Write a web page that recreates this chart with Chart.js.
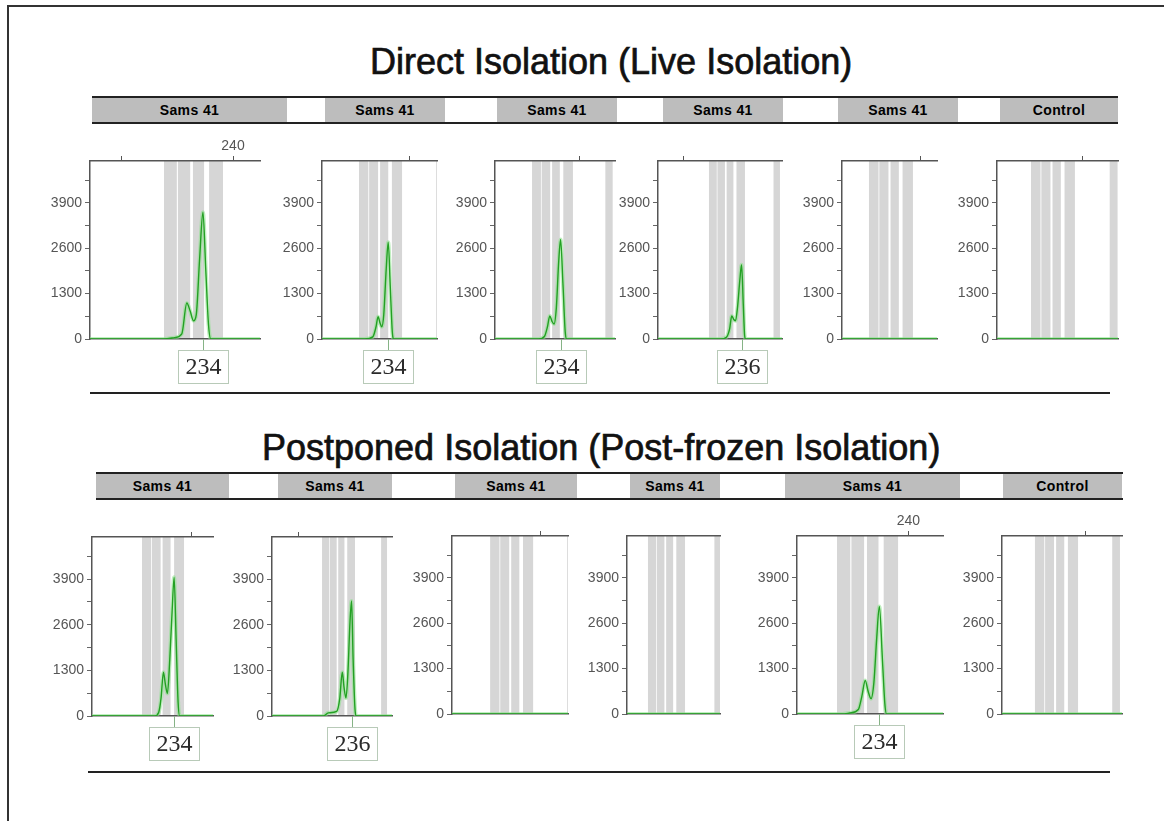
<!DOCTYPE html>
<html>
<head>
<meta charset="utf-8">
<script src="https://cdn.jsdelivr.net/npm/chart.js@4.4.1/dist/chart.umd.min.js"></script>
<style>
  body { margin: 0; background: #fff; width: 1164px; height: 821px; position: relative; overflow: hidden;
         font-family: "Liberation Sans", Arial, sans-serif; }
  .line { position: absolute; background: #333; }
  .title { position: absolute; font-size: 36px; line-height: 36px; white-space: nowrap; color: #111;
           -webkit-text-stroke: 0.7px #111; }
  .bar { position: absolute; height: 24px; border-top: 2px solid #222; border-bottom: 2px solid #222; }
  .seg { position: absolute; top: 0; height: 24px; background: #bdbdbd; font-weight: bold; font-size: 14px;
         letter-spacing: 0.4px; line-height: 24px; text-align: center; color: #000; }
  canvas { position: absolute; }
</style>
</head>
<body>
<script>
// titles and lane names
const groupTitles = ['Direct Isolation (Live Isolation)', 'Postponed Isolation (Post-frozen Isolation)'];
const laneNames = ['Sams 41', 'Sams 41', 'Sams 41', 'Sams 41', 'Sams 41', 'Control'];

// y axis (RFU)
const yMax = 5100;
const yTickValues = [0, 650, 1300, 1950, 2600, 3250, 3900, 4550];
const yLabelled = [0, 1300, 2600, 3900];

// allele bins (bp)
const binRanges = [[227.6, 229.9], [230.1, 232.3], [232.8, 234.8], [235.7, 238.2], [246.6, 248.5]];

// visible size range of each panel (bp)
const xRanges = [
  [214.3, 244.85], [218.5, 246.8], [218.0, 249.1], [212.6, 249.1], [221.1, 244.0], [219.4, 248.6],
  [215.0, 245.5], [211.5, 250.1], [218.2, 246.8], [221.6, 248.2], [220.65, 246.0], [219.5, 249.0]
];

// top size-axis ticks and the one that carries a label
const topTicks = [[220, 240], [240], [240], [220], [240], [240], [240], [220], [240], [], [240], [240]];
const labelledTopTick = [240, null, null, null, null, null, null, null, null, null, 240, null];

// traces: [size bp, RFU]
const trace1 = [[214.3, 0], [227.5, 0], [229.5, 40], [230.8, 150], [231.7, 1030], [232.3, 800], [232.9, 520],
  [233.4, 700], [234.0, 2300], [234.6, 3630], [235.1, 2000], [235.6, 400], [236.0, 0], [244.85, 0]];
const trace2 = [[218.5, 0], [229.0, 0], [231.0, 60], [231.8, 350], [232.3, 640], [232.8, 450], [233.2, 350],
  [233.7, 700], [234.3, 2000], [234.8, 2770], [235.3, 1500], [235.8, 200], [236.1, 0], [246.8, 0]];
const trace3 = [[218.0, 0], [229.3, 0], [230.8, 70], [231.6, 350], [232.2, 660], [232.8, 500], [233.3, 430],
  [233.9, 900], [234.5, 2200], [235.0, 2850], [235.6, 1600], [236.2, 200], [236.6, 0], [249.1, 0]];
const trace4 = [[212.6, 0], [231.0, 0], [232.8, 60], [233.7, 300], [234.3, 660], [234.9, 560], [235.4, 520],
  [236.0, 900], [236.7, 1700], [237.2, 2130], [237.7, 1000], [238.1, 100], [238.4, 0], [249.1, 0]];
const trace5 = [[221.1, 0], [244.0, 0]];
const trace6 = [[219.4, 0], [248.6, 0]];
const trace7 = [[215.0, 0], [230.8, 0], [231.8, 100], [232.4, 500], [233.0, 1250], [233.5, 900], [234.0, 640],
  [234.6, 1600], [235.2, 3000], [235.7, 3950], [236.2, 2200], [236.7, 400], [237.1, 0], [245.5, 0]];
const trace8 = [[211.5, 0], [228.0, 0], [229.6, 90], [232.3, 130], [233.3, 500], [234.1, 1250], [234.7, 800],
  [235.3, 510], [235.9, 1200], [236.6, 2700], [237.1, 3280], [237.6, 1600], [238.2, 200], [238.6, 0], [250.1, 0]];
const trace9 = [[218.2, 0], [246.8, 0]];
const trace10 = [[221.6, 0], [248.2, 0]];
const trace11 = [[220.65, 0], [228.5, 0], [229.8, 30], [231.3, 130], [231.9, 500], [232.5, 960], [233.0, 650],
  [233.5, 440], [234.0, 900], [234.5, 2200], [234.95, 3080], [235.5, 1500], [235.9, 300], [236.2, 0], [246.0, 0]];
const trace12 = [[219.5, 0], [249.0, 0]];
const traces = [trace1, trace2, trace3, trace4, trace5, trace6, trace7, trace8, trace9, trace10, trace11, trace12];

// allele calls: [size bp, label]
const calls = [[234.6, '234'], [234.8, '234'], [235.0, '234'], [237.2, '236'], null, null,
  [235.7, '234'], [237.1, '236'], null, null, [234.95, '234'], null];

// ---- layout (pixels) ----
const plotBoxes = [
  [90, 161, 260, 339], [322, 161, 437, 339], [495, 161, 615, 339], [658, 161, 782, 339], [842, 161, 937, 339], [997, 161, 1118, 339],
  [92, 537, 213, 716], [272, 537, 392, 716], [452, 536, 568, 714], [627, 536, 720, 714], [797, 536, 943, 714], [1002, 536, 1122, 714]
];
const headerRows = [
  { left: 92, top: 96, right: 1118, segs: [[92, 287], [325, 445], [497, 617], [663, 783], [838, 958], [1000, 1118]] },
  { left: 96, top: 472, right: 1123, segs: [[96, 229], [278, 392], [455, 577], [630, 720], [785, 960], [1003, 1122]] }
];
const titlePos = [[370, 44], [262, 430]];
const rules = [[90, 392, 1020], [88, 771, 1022]];

Chart.defaults.font.family = '"Liberation Sans", Arial, sans-serif';

function addDiv(cls, css, text) {
  const d = document.createElement('div');
  d.className = cls;
  d.style.cssText = css;
  if (text) d.textContent = text;
  document.body.appendChild(d);
  return d;
}

// frame
addDiv('line', 'left:7px;top:5px;width:2px;height:816px');
addDiv('line', 'left:7px;top:5px;width:1157px;height:2px');

groupTitles.forEach((t, k) => addDiv('title', `left:${titlePos[k][0]}px;top:${titlePos[k][1]}px`, t));

headerRows.forEach(row => {
  const bar = addDiv('bar', `left:${row.left}px;top:${row.top}px;width:${row.right - row.left}px`);
  row.segs.forEach((s, k) => {
    const seg = document.createElement('div');
    seg.className = 'seg';
    seg.style.cssText = `left:${s[0] - row.left}px;width:${s[1] - s[0]}px`;
    seg.textContent = laneNames[k];
    bar.appendChild(seg);
  });
});

rules.forEach(r => addDiv('line', `left:${r[0]}px;top:${r[1]}px;width:${r[2]}px;height:2px;background:#222`));

const binsPlugin = {
  id: 'bins',
  beforeDraw(chart) {
    const { ctx, chartArea: a, scales: { x } } = chart;
    ctx.save();
    ctx.beginPath();
    ctx.rect(a.left, a.top, a.right - a.left, a.bottom - a.top);
    ctx.clip();
    ctx.fillStyle = '#d6d6d6';
    binRanges.forEach(([s, e]) => {
      const x0 = x.getPixelForValue(s), x1 = x.getPixelForValue(e);
      ctx.fillRect(x0, a.top, x1 - x0, a.bottom - a.top);
    });
    ctx.restore();
  }
};

const callsPlugin = {
  id: 'calls',
  afterDraw(chart) {
    const c = calls[chart.options.panelIndex];
    if (!c) return;
    const { ctx, chartArea: a, scales: { x } } = chart;
    const px = Math.round(x.getPixelForValue(c[0])) + 0.5;
    ctx.save();
    ctx.lineWidth = 1;
    ctx.strokeStyle = '#86b386';
    ctx.beginPath();
    ctx.moveTo(px, a.bottom);
    ctx.lineTo(px, a.bottom + 11);
    ctx.stroke();
    ctx.strokeStyle = '#b8cab8';
    ctx.strokeRect(px - 25, a.bottom + 11.5, 50, 33);
    ctx.fillStyle = '#2a2a2a';
    ctx.font = '24px "Liberation Serif", "Times New Roman", serif';
    ctx.textAlign = 'center';
    ctx.textBaseline = 'middle';
    ctx.fillText(c[1], px, a.bottom + 29);
    ctx.restore();
  }
};

function makePanel(i) {
  const [l, t, r, b] = plotBoxes[i];
  const padL = 48, padT = 24, padR = 8, padB = 50;
  const w = padL + (r - l) + padR, h = padT + (b - t) + padB;
  const canvas = document.createElement('canvas');
  canvas.width = w;
  canvas.height = h;
  canvas.style.cssText = `left:${l - padL}px;top:${t - padT}px;width:${w}px;height:${h}px`;
  document.body.appendChild(canvas);

  const pts = traces[i].map(p => ({ x: p[0], y: p[1] }));
  const [xmin, xmax] = xRanges[i];
  const tickFont = { size: 14 };

  new Chart(canvas, {
    type: 'line',
    data: {
      datasets: [
        { data: pts, borderColor: 'rgba(140,225,140,0.55)', borderWidth: 4, pointRadius: 0, cubicInterpolationMode: 'monotone', order: 2 },
        { data: pts, borderColor: '#23a023', borderWidth: 1.4, pointRadius: 0, cubicInterpolationMode: 'monotone', order: 1 }
      ]
    },
    options: {
      panelIndex: i,
      responsive: false,
      animation: false,
      devicePixelRatio: 1,
      events: [],
      layout: { padding: { left: 0, top: 0, right: padR, bottom: padB } },
      plugins: { legend: { display: false }, tooltip: { enabled: false } },
      scales: {
        x: {
          type: 'linear', position: 'bottom', min: xmin, max: xmax,
          ticks: { display: false },
          grid: { display: true, drawOnChartArea: false, drawTicks: false },
          border: { color: '#555', width: 1.5 },
          afterFit: s => { s.height = 0; }
        },
        x2: {
          type: 'linear', position: 'top', min: xmin, max: xmax,
          afterBuildTicks: s => { s.ticks = topTicks[i].map(v => ({ value: v })); },
          ticks: { autoSkip: false, maxRotation: 0, padding: 1, color: '#555', font: tickFont,
                   callback: v => (v === labelledTopTick[i] ? String(v) : '') },
          grid: { drawOnChartArea: false, tickLength: 5, color: '#555' },
          border: { color: '#555', width: 1.5 },
          afterFit: s => { s.height = padT; }
        },
        y: {
          min: 0, max: yMax,
          afterBuildTicks: s => { s.ticks = yTickValues.map(v => ({ value: v })); },
          ticks: { autoSkip: false, padding: 3, color: '#555', font: tickFont,
                   callback: v => (yLabelled.includes(v) ? String(v) : '') },
          grid: { drawOnChartArea: false, tickLength: 5, color: '#666' },
          border: { color: '#555', width: 1.5 },
          afterFit: s => { s.width = padL; }
        }
      }
    },
    plugins: [binsPlugin, callsPlugin]
  });
}

traces.forEach((_, i) => makePanel(i));
</script>
</body>
</html>
